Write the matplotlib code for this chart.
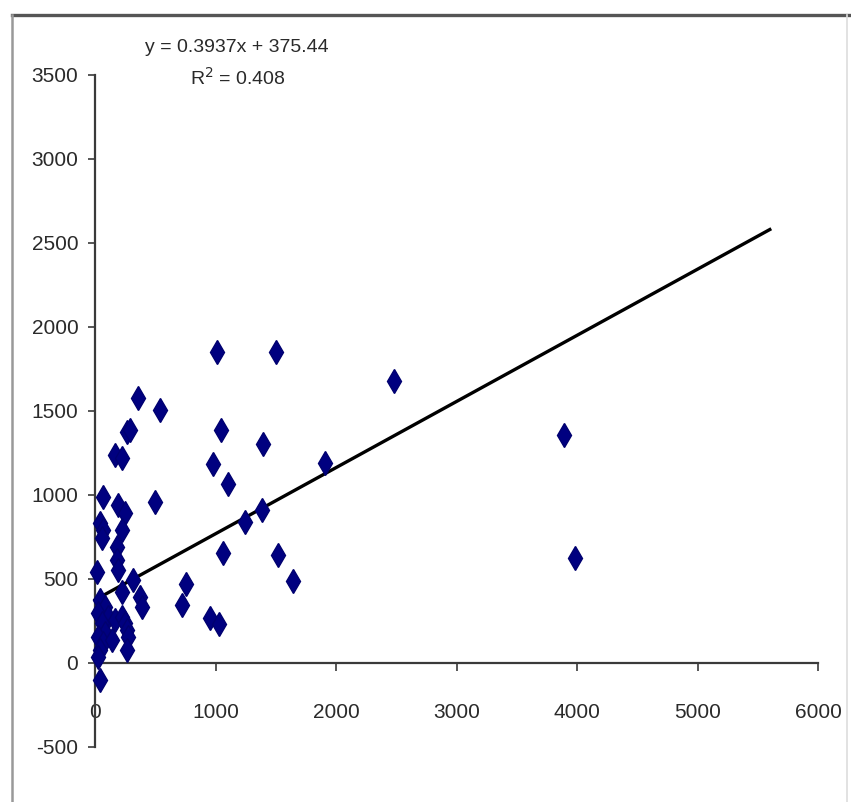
import matplotlib
matplotlib.use("Agg")
import matplotlib.pyplot as plt
from matplotlib.lines import Line2D

# ---- data ----
x_vals = [1015, 1502, 360, 540, 263, 290, 1043, 1391, 166, 221, 982, 1909, 1106,
          69, 498, 194, 249, 1383, 1245, 41, 69, 55, 221, 180, 1060, 1521, 180,
          194, 14, 318, 755, 1640, 221, 373, 387, 719, 954, 1032,
          41, 83, 27, 110, 55, 166, 221, 249, 263, 277, 83, 27, 69, 138, 41, 263, 27,
          41, 2484, 3895, 3986]
y_vals = [1849, 1849, 1575, 1506, 1377, 1387, 1387, 1302, 1238, 1218, 1185, 1189, 1065,
          990, 960, 940, 891, 911, 841, 832, 792, 742, 792, 692, 657, 643, 613,
          554, 544, 494, 468, 488, 425, 395, 335, 345, 266, 232,
          375, 335, 296, 276, 236, 256, 276, 236, 196, 157, 177, 157, 117, 137, 77, 77, 37,
          -101, 1679, 1357, 623]
slope = 0.3937
intercept = 375.44
r_squared = 0.408
trend_x = [0, 5600]
x_ticks = [0, 1000, 2000, 3000, 4000, 5000, 6000]
y_ticks = [-500, 0, 500, 1000, 1500, 2000, 2500, 3000, 3500]

plt.rcParams['font.family'] = ['Liberation Sans', 'DejaVu Sans']

W, H = 851, 802
fig = plt.figure(figsize=(W / 100, H / 100), dpi=100)
fig.patch.set_facecolor('white')

ax = fig.add_axes([95 / W, 1 - 747 / H, 723 / W, 672 / H])
ax.set_xlim(0, 6000)
ax.set_ylim(-500, 3500)

ax.spines['top'].set_visible(False)
ax.spines['right'].set_visible(False)
ax.spines['left'].set_position(('data', 0))
ax.spines['bottom'].set_position(('data', 0))
for s in ('left', 'bottom'):
    ax.spines[s].set_color('#3a3a3a')
    ax.spines[s].set_linewidth(1.6)

ax.set_xticks(x_ticks)
ax.set_yticks(y_ticks)
ax.set_xticklabels([str(t) for t in x_ticks])
ax.set_yticklabels([str(t) for t in y_ticks])
ax.tick_params(axis='x', direction='out', length=6, width=1.2, color='#3a3a3a',
               pad=23, labelsize=15, labelcolor='#2a2a2a')
ax.tick_params(axis='y', direction='out', length=5, width=1.2, color='#3a3a3a',
               pad=7, labelsize=15, labelcolor='#2a2a2a')

# trend line
trend_y = [slope * v + intercept for v in trend_x]
ax.plot(trend_x, trend_y, color='black', linewidth=2.4, zorder=2, clip_on=False)

# scatter
ax.plot(x_vals, y_vals, linestyle='none', marker='d', markersize=12,
        color='#000080', markeredgecolor='#000070', zorder=3, clip_on=False)

# equation
fig.text(237 / W, 1 - 47 / H, f"y = {slope}x + {intercept}", ha='center', va='center',
         fontsize=14, color='#2a2a2a')
fig.text(238 / W, 1 - 78 / H, f"R$^2$ = {r_squared}", ha='center', va='center',
         fontsize=14, color='#2a2a2a')

# outer frame
fig.add_artist(Line2D([12 / W, 1.0], [1 - 15 / H, 1 - 15 / H], transform=fig.transFigure,
                      color='#555555', linewidth=2.4))
fig.add_artist(Line2D([12 / W, 12 / W], [1 - 15 / H, 0], transform=fig.transFigure,
                      color='#999999', linewidth=1.8))
fig.add_artist(Line2D([847 / W, 847 / W], [1 - 15 / H, 0], transform=fig.transFigure,
                      color='#dddddd', linewidth=1.2))

fig.savefig('out.png', dpi=100)
